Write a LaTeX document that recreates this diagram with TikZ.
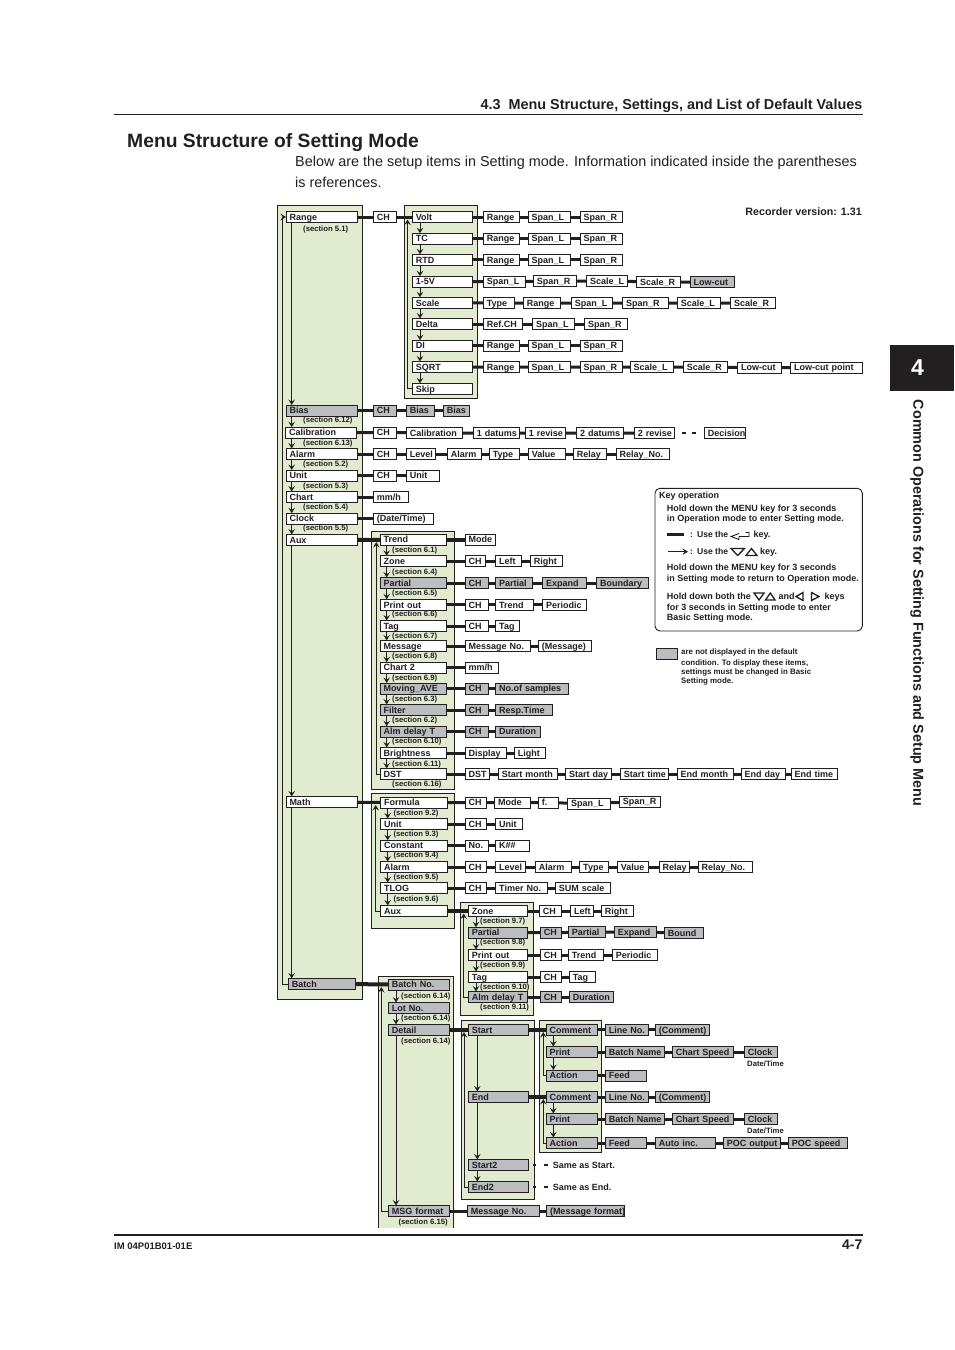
\documentclass[tikz,border=0pt]{standalone}
\usepackage{fontspec}
\setmainfont{Liberation Sans}
\usetikzlibrary{arrows.meta}
\definecolor{ink}{HTML}{231F20}
\definecolor{boxgray}{HTML}{BCBDC0}
\definecolor{panelgreen}{HTML}{E0EBCF}
\newcommand\itmfont{\fontsize{9}{10}\selectfont\bfseries}
\newcommand\secfont{\fontsize{7.7}{8}\selectfont\bfseries}
\newcommand\keyfont{\fontsize{9}{10}\selectfont\bfseries}
\tikzset{
  itm/.style={draw=ink, fill=white, line width=.9pt, outer sep=0pt, anchor=west, inner xsep=3.5pt, inner ysep=2.25pt,
    text height=6.5pt, text depth=0pt, text width=#1pt-7pt, align=left, font=\itmfont, text=ink},
  itg/.style={itm=#1, fill=boxgray},
  sec/.style={anchor=west, inner sep=0pt, text height=6.5pt, text depth=0pt, font=\secfont, text=ink},
  keytxt/.style={anchor=west, inner sep=0pt, text height=6.5pt, text depth=0pt, font=\keyfont, text=ink},
  lgtxt/.style={anchor=west, inner sep=0pt, text height=5.6pt, text depth=0pt, font=\fontsize{7.9}{8}\selectfont\bfseries, text=ink},
  lnk/.style={draw=ink, line width=3pt},
  lnkb/.style={draw=ink, line width=4pt},
  arr/.style={draw=ink, line width=.85pt, -{Stealth[length=5.5pt,width=6.5pt,inset=2.2pt]}},
  panel/.style={draw=ink, fill=panelgreen, line width=.9pt},
  tri/.style={draw=ink, line width=1.3pt, line join=miter},
}
\begin{document}
\begin{tikzpicture}[x=1pt,y=-1pt]
\useasboundingbox (0,0) rectangle (954,1350);

\draw[panel] (277.7,205.5) rectangle (362.3,999);
\draw[panel] (404.3,205.5) rectangle (477.3,398.3);
\draw[panel] (371.7,531.5) rectangle (454.3,789.3);
\draw[panel] (371.7,793.3) rectangle (454.3,928.3);
\draw[panel] (460.7,902.3) rectangle (533.7,1015);
\draw[panel] (378.3,1227.7) -- (378.3,976) -- (453.3,976) -- (453.3,1227.7);
\draw[panel] (461.3,1020.3) rectangle (534.7,1199.3);
\draw[panel] (539.3,1020.3) rectangle (601.7,1152.5);

\draw[ink, line width=1pt] (114,114.3) -- (862.5,114.3);
\draw[ink, line width=1.2pt] (114,1235) -- (862.5,1235);
\fill[ink] (890,345) rectangle (954,391);

\node[anchor=east, inner sep=0pt, font=\fontsize{14.4}{16}\selectfont\bfseries, text=ink] (headA) at (862.5,106) {4.3\ \ Menu Structure, Settings, and List of Default Values};
\node[anchor=west, inner sep=0pt, font=\fontsize{19.3}{22}\selectfont\bfseries, text=ink] (headB) at (127,143) {Menu Structure of Setting Mode};
\node[anchor=west, inner sep=0pt, font=\fontsize{14.4}{16}\selectfont, text=ink] (introA) at (295,162.5) {Below are the setup items in Setting mode. Information indicated inside the parentheses};
\node[anchor=west, inner sep=0pt, font=\fontsize{14.4}{16}\selectfont, text=ink] (introB) at (295,182.5) {is references.};
\node[anchor=east, inner sep=0pt, font=\fontsize{10.7}{11}\selectfont\bfseries, text=ink] (recver) at (862,211.5) {Recorder version: 1.31};
\node[inner sep=0pt, font=\fontsize{23}{24}\selectfont\bfseries, text=white] (tabnum) at (917.5,368) {4};
\node[rotate=-90, inner sep=0pt, font=\fontsize{14.4}{15}\selectfont\bfseries, text=ink] (sidetxt) at (917,603) {Common Operations for Setting Functions and Setup Menu};
\node[anchor=west, inner sep=0pt, font=\fontsize{9.5}{10}\selectfont\bfseries, text=ink] (docno) at (114,1246) {IM 04P01B01-01E};
\node[anchor=east, inner sep=0pt, font=\fontsize{14}{16}\selectfont\bfseries, text=ink] (pageno) at (862.5,1245) {4-7};

\node[itm=71] (mRange) at (286,217) {Range};
\node[itg=71] (mBias) at (286,410.5) {Bias};
\node[itm=71] (mCal) at (285.5,432.7) {Calibration};
\node[itm=71] (mAlarm) at (286,454) {Alarm};
\node[itm=71] (mUnit) at (286,475.5) {Unit};
\node[itm=71] (mChart) at (286,497) {Chart};
\node[itm=71] (mClock) at (286,518.7) {Clock};
\node[itm=71] (mAux) at (286,540) {Aux};
\node[itm=71] (mMath) at (286,802) {Math};
\node[itg=67.5] (mBatch) at (288.3,984) {Batch};

\node[sec] (s51) at (303,228.3) {(section 5.1)};
\node[sec] (s612) at (303,419.3) {(section 6.12)};
\node[sec] (s613) at (303,442.3) {(section 6.13)};
\node[sec] (s52) at (303,463.3) {(section 5.2)};
\node[sec] (s53) at (303,485.3) {(section 5.3)};
\node[sec] (s54) at (303,506.7) {(section 5.4)};
\node[sec] (s55) at (303,527.3) {(section 5.5)};

\node[itm=22.7] (rCh) at (373.3,217) {CH};
\node[itm=60] (vVolt) at (412.3,217) {Volt};
\node[itm=60] (vTc) at (412.3,238.7) {TC};
\node[itm=60] (vRtd) at (412.3,259.8) {RTD};
\node[itm=60] (vV15) at (412.3,281.7) {1-5V};
\node[itm=60] (vScale) at (412.3,302.8) {Scale};
\node[itm=60] (vDelta) at (412.3,324) {Delta};
\node[itm=60] (vDi) at (412.3,345.7) {DI};
\node[itm=60] (vSqrt) at (412.3,367) {SQRT};
\node[itm=60.5] (vSkip) at (412.3,388.8) {Skip};

\node[itm=35.7] (volA) at (483.3,217) {Range};
\node[itm=42] (volB) at (528,217) {Span\_L};
\node[itm=42.3] (volC) at (580,217) {Span\_R};
\node[itm=35.7] (tcA) at (483.3,238.7) {Range};
\node[itm=42] (tcB) at (528,238.7) {Span\_L};
\node[itm=42.3] (tcC) at (580,238.7) {Span\_R};
\node[itm=35.7] (rtdA) at (483.3,259.8) {Range};
\node[itm=42] (rtdB) at (528,259.8) {Span\_L};
\node[itm=42.3] (rtdC) at (580,259.8) {Span\_R};
\node[itm=41.7] (vfA) at (483.3,281.7) {Span\_L};
\node[itm=42.7] (vfB) at (533.3,281.2) {Span\_R};
\node[itm=40.6] (vfC) at (586.7,281) {Scale\_L};
\node[itm=44] (vfD) at (636.7,282) {Scale\_R};
\node[itg=44.3] (vfE) at (690,282) {Low-cut};
\node[itm=30.7] (scA) at (483.3,303) {Type};
\node[itm=36.7] (scB) at (523.3,303) {Range};
\node[itm=41.4] (scC) at (571.3,303) {Span\_L};
\node[itm=45.6] (scD) at (622.7,303) {Span\_R};
\node[itm=42.7] (scE) at (677.3,303) {Scale\_L};
\node[itm=44.3] (scF) at (730.7,303) {Scale\_R};
\node[itm=39.4] (deA) at (483.3,324) {Ref.CH};
\node[itm=42] (deB) at (532.7,324) {Span\_L};
\node[itm=42.6] (deC) at (584.7,324) {Span\_R};
\node[itm=35.7] (diA) at (483.3,345.7) {Range};
\node[itm=42] (diB) at (528,345.7) {Span\_L};
\node[itm=42.3] (diC) at (580,345.7) {Span\_R};
\node[itm=35.7] (sqA) at (483.3,367) {Range};
\node[itm=42] (sqB) at (528,367) {Span\_L};
\node[itm=42.3] (sqC) at (580,367) {Span\_R};
\node[itm=43.3] (sqD) at (630,367) {Scale\_L};
\node[itm=44] (sqE) at (683.3,367) {Scale\_R};
\node[itm=44] (sqF) at (737.7,367.7) {Low-cut};
\node[itm=71.6] (sqG) at (790.7,367.7) {Low-cut~point};

\node[itg=23.4] (biA) at (373.3,410.5) {CH};
\node[itg=28] (biB) at (406.3,410.5) {Bias};
\node[itg=26] (biC) at (443.3,410.5) {Bias};

\node[itm=23.4] (caA) at (373.3,432.5) {CH};
\node[itm=56.4] (caB) at (406.3,433) {Calibration};
\node[itm=46] (caC) at (473.3,433) {\mbox{1 datums}};
\node[itm=40] (caD) at (525.3,433) {\mbox{1 revise}};
\node[itm=46.6] (caE) at (576.7,433) {\mbox{2 datums}};
\node[itm=39.7] (caF) at (634.3,433) {\mbox{2 revise}};
\node[itm=40.7] (caG) at (704.3,433) {Decision};

\node[itm=23.4] (alA) at (373.3,454) {CH};
\node[itm=29.4] (alB) at (406.3,454) {Level};
\node[itm=34.4] (alC) at (447.3,454) {Alarm};
\node[itm=30] (alD) at (489.3,454) {Type};
\node[itm=36.7] (alE) at (528.3,454) {Value};
\node[itm=32.7] (alF) at (573.3,454) {Relay};
\node[itm=53.3] (alG) at (616,454) {Relay\_No.};

\node[itm=23.4] (unA) at (373.3,475.5) {CH};
\node[itm=33] (unB) at (406.3,475.5) {Unit};
\node[itm=35] (chA) at (373.3,497) {mm/h};
\node[itm=60] (clA) at (373.3,518.7) {(Date/Time)};

\node[itm=66.7] (aTrend) at (380,539.7) {Trend};
\node[itm=66.7] (aZone) at (380,561.3) {Zone};
\node[itg=66.7] (aPart) at (380,583) {Partial};
\node[itm=66.7] (aPrint) at (380,604.8) {Print~out};
\node[itm=66.7] (aTag) at (380,626) {Tag};
\node[itm=66.7] (aMsg) at (380,646) {Message};
\node[itm=66.7] (aChart) at (380,667.7) {Chart~2};
\node[itg=66.7] (aMove) at (380,688.5) {Moving\_AVE};
\node[itg=66.7] (aFilt) at (380,710) {Filter};
\node[itg=66.7] (aDelay) at (380,731.7) {Alm~delay~T};
\node[itm=66.7] (aBright) at (380,753) {Brightness};
\node[itm=66.7] (aDst) at (380,774) {DST};

\node[sec] (s61) at (392,549.3) {(section 6.1)};
\node[sec] (s64) at (392,571) {(section 6.4)};
\node[sec] (s65) at (392,592.3) {(section 6.5)};
\node[sec] (s66) at (392,613.7) {(section 6.6)};
\node[sec] (s67) at (392,635.3) {(section 6.7)};
\node[sec] (s68) at (392,655.3) {(section 6.8)};
\node[sec] (s69) at (392,677.3) {(section 6.9)};
\node[sec] (s63) at (392,698.3) {(section 6.3)};
\node[sec] (s62) at (392,719.3) {(section 6.2)};
\node[sec] (s610) at (392,740.3) {(section 6.10)};
\node[sec] (s611) at (392,763) {(section 6.11)};
\node[sec] (s616) at (392,783.5) {(section 6.16)};

\node[itm=30.7] (trA) at (465,539.7) {Mode};
\node[itm=20] (zoA) at (465,561.3) {CH};
\node[itm=25.6] (zoB) at (495.7,561.3) {Left};
\node[itm=32] (zoC) at (530.3,561.3) {Right};
\node[itg=23.3] (paA) at (465,583) {CH};
\node[itg=37] (paB) at (495.7,583) {Partial};
\node[itg=44] (paC) at (542.7,583) {Expand};
\node[itg=51.6] (paD) at (596.7,583) {Boundary};
\node[itm=23.3] (prA) at (465,604.8) {CH};
\node[itm=38] (prB) at (495.7,604.8) {Trend};
\node[itm=44] (prC) at (542.7,604.8) {Periodic};
\node[itm=23.3] (taA) at (465,626) {CH};
\node[itm=24] (taB) at (495.7,626) {Tag};
\node[itm=65.7] (meA) at (465,646) {Message~No.};
\node[itm=53.4] (meB) at (538.3,646) {(Message)};
\node[itm=33.3] (c2A) at (465,667.7) {mm/h};
\node[itg=23.3] (moA) at (465,688.5) {CH};
\node[itg=73] (moB) at (495.7,688.5) {No.of~samples};
\node[itg=23.3] (fiA) at (465,710) {CH};
\node[itg=56.3] (fiB) at (495.7,710) {Resp.Time};
\node[itg=23.3] (adA) at (465,731.7) {CH};
\node[itg=44.6] (adB) at (495.7,731.7) {Duration};
\node[itm=41.7] (brA) at (465,753) {Display};
\node[itm=31] (brB) at (514.3,753) {Light};
\node[itm=24.3] (dsA) at (465,774) {DST};
\node[itm=59] (dsB) at (498.3,774) {Start~month};
\node[itm=46] (dsC) at (565.7,774) {Start~day};
\node[itm=48] (dsD) at (620.3,774) {Start~time};
\node[itm=56] (dsE) at (677,774) {End~month};
\node[itm=44] (dsF) at (741,774) {End~day};
\node[itm=46] (dsG) at (791,774) {End~time};

\node[itm=67] (fForm) at (380.7,802.7) {Formula};
\node[itm=67] (fUnit) at (380.7,824) {Unit};
\node[itm=67] (fCon) at (380.7,845.7) {Constant};
\node[itm=67] (fAlarm) at (380.7,867) {Alarm};
\node[itm=67] (fTlog) at (380.7,888) {TLOG};
\node[itm=67] (fAux) at (380.7,911) {Aux};

\node[sec] (s92) at (393.3,812.7) {(section 9.2)};
\node[sec] (s93) at (393.3,833.3) {(section 9.3)};
\node[sec] (s94) at (393.3,854.3) {(section 9.4)};
\node[sec] (s95) at (393.3,876.7) {(section 9.5)};
\node[sec] (s96) at (393.3,898.3) {(section 9.6)};

\node[itm=21.3] (foA) at (465,802.7) {CH};
\node[itm=35.3] (foB) at (494.7,802.7) {Mode};
\node[itm=20.4] (foC) at (538.3,802.7) {f.};
\node[itm=43] (foD) at (567.7,803.5) {Span\_L};
\node[itm=41] (foE) at (619.3,801.7) {Span\_R};
\node[itm=21.3] (fuA) at (465,824) {CH};
\node[itm=26.6] (fuB) at (495.7,824) {Unit};
\node[itm=23] (fcA) at (465,845.7) {No.};
\node[itm=33.6] (fcB) at (495.7,845.7) {K\#\#};
\node[itm=21.3] (faA) at (465,867) {CH};
\node[itm=29.6] (faB) at (495.7,867) {Level};
\node[itm=36] (faC) at (535.3,867) {Alarm};
\node[itm=29] (faD) at (579.7,867) {Type};
\node[itm=30.7] (faE) at (617.3,867) {Value};
\node[itm=30] (faF) at (659,867) {Relay};
\node[itm=54] (faG) at (698,867) {Relay\_No.};
\node[itm=21.3] (ftA) at (465,888) {CH};
\node[itm=51.6] (ftB) at (495.7,888) {Timer~No.};
\node[itm=55.4] (ftC) at (555.3,888) {SUM~scale};

\node[itm=59.4] (xZone) at (468.3,911) {Zone};
\node[itg=59.4] (xPart) at (468.3,932.7) {Partial};
\node[itm=59.4] (xPrint) at (468.3,955) {Print~out};
\node[itm=59.4] (xTag) at (468.3,977) {Tag};
\node[itg=59.4] (xDelay) at (468.3,997) {Alm~delay~T};

\node[sec] (s97) at (480,920) {(section 9.7)};
\node[sec] (s98) at (480,941.3) {(section 9.8)};
\node[sec] (s99) at (480,964) {(section 9.9)};
\node[sec] (s910) at (480,986.3) {(section 9.10)};
\node[sec] (s911) at (480,1006.3) {(section 9.11)};

\node[itm=22] (xzA) at (539.3,911) {CH};
\node[itm=22.6] (xzB) at (570.7,911) {Left};
\node[itm=32] (xzC) at (601.3,911) {Right};
\node[itg=21] (xpA) at (540.3,932.7) {CH};
\node[itg=36.7] (xpB) at (568.3,932.2) {Partial};
\node[itg=42.4] (xpC) at (614.3,932) {Expand};
\node[itg=39] (xpD) at (664.3,933) {Bound};
\node[itm=21] (xrA) at (540.3,955) {CH};
\node[itm=35.4] (xrB) at (568.3,955) {Trend};
\node[itm=45.4] (xrC) at (612.3,955) {Periodic};
\node[itm=21] (xtA) at (540.3,977) {CH};
\node[itm=26] (xtB) at (569.3,977) {Tag};
\node[itg=21] (xdA) at (540.3,997) {CH};
\node[itg=44] (xdB) at (569.3,997) {Duration};

\node[itg=61.4] (bNo) at (388.3,984.5) {Batch~No.};
\node[itg=61.4] (bLot) at (388.3,1008) {Lot~No.};
\node[itg=61.4] (bDet) at (388.3,1029.8) {Detail};
\node[itg=61.4] (bMsg) at (388.3,1211) {MSG~format};

\node[sec] (s614a) at (401,995) {(section 6.14)};
\node[sec] (s614b) at (401,1017.3) {(section 6.14)};
\node[sec] (s614c) at (401,1040.3) {(section 6.14)};
\node[sec] (s615) at (398.3,1221.7) {(section 6.15)};

\node[itg=60.4] (dStart) at (468.3,1029.8) {Start};
\node[itg=60.4] (dEnd) at (468.3,1097) {End};
\node[itg=60.4] (dStartB) at (468.3,1165) {Start2};
\node[itg=60.4] (dEndB) at (468.3,1187) {End2};

\node[itg=51.7] (gCom) at (546,1029.8) {Comment};
\node[itg=51.7] (gPrint) at (546,1052) {Print};
\node[itg=51.7] (gAct) at (546,1075.5) {Action};
\node[itg=51.7] (gComB) at (546,1097) {Comment};
\node[itg=51.7] (gPrintB) at (546,1119) {Print};
\node[itg=51.7] (gActB) at (546,1143) {Action};

\node[itg=43] (gcA) at (605.3,1029.8) {Line~No.};
\node[itg=54] (gcB) at (655.3,1029.8) {(Comment)};
\node[itg=59] (gpA) at (605.3,1052) {Batch~Name};
\node[itg=61] (gpB) at (672.3,1052) {Chart~Speed};
\node[itg=33.4] (gpC) at (744.3,1052) {Clock};
\node[itg=41.4] (gaA) at (605.3,1075.5) {Feed};
\node[itg=43] (hcA) at (605.3,1097) {Line~No.};
\node[itg=54] (hcB) at (655.3,1097) {(Comment)};
\node[itg=59] (hpA) at (605.3,1119) {Batch~Name};
\node[itg=61] (hpB) at (672.3,1119) {Chart~Speed};
\node[itg=33.4] (hpC) at (744.3,1119) {Clock};
\node[itg=41.4] (haA) at (605.3,1143) {Feed};
\node[itg=60.4] (haB) at (655.3,1143) {Auto~inc.};
\node[itg=56.7] (haC) at (723.3,1143) {\mbox{POC output}};
\node[itg=59] (haD) at (788.3,1143) {POC~speed};
\node[sec] (dtA) at (747,1063.3) {Date/Time};
\node[sec] (dtB) at (747,1130) {Date/Time};

\node[itg=71.7] (msA) at (467.3,1211) {Message~No.};
\node[itg=78] (msB) at (546.5,1211) {\mbox{(Message format)}};
\node[keytxt] (sameA) at (552.7,1165) {Same as Start.};
\node[keytxt] (sameB) at (552.7,1187) {Same as End.};

\foreach \a/\b in {mRange/mBias,mBias/mCal,mCal/mAlarm,mAlarm/mUnit,mUnit/mChart,mChart/mClock,mClock/mAux,mAux/mMath,mMath/mBatch}
  \draw[arr] (\a.south -| 291.7,0) -- (\b.north -| 291.7,0);
\foreach \a/\b in {vVolt/vTc,vTc/vRtd,vRtd/vV15,vV15/vScale,vScale/vDelta,vDelta/vDi,vDi/vSqrt,vSqrt/vSkip}
  \draw[arr] (\a.south -| 420,0) -- (\b.north -| 420,0);
\foreach \a/\b in {aTrend/aZone,aZone/aPart,aPart/aPrint,aPrint/aTag,aTag/aMsg,aMsg/aChart,aChart/aMove,aMove/aFilt,aFilt/aDelay,aDelay/aBright,aBright/aDst}
  \draw[arr] (\a.south -| 386.7,0) -- (\b.north -| 386.7,0);
\foreach \a/\b in {fForm/fUnit,fUnit/fCon,fCon/fAlarm,fAlarm/fTlog,fTlog/fAux}
  \draw[arr] (\a.south -| 387.7,0) -- (\b.north -| 387.7,0);
\foreach \a/\b in {xZone/xPart,xPart/xPrint,xPrint/xTag,xTag/xDelay}
  \draw[arr] (\a.south -| 476,0) -- (\b.north -| 476,0);
\foreach \a/\b in {bNo/bLot,bLot/bDet,bDet/bMsg}
  \draw[arr] (\a.south -| 396,0) -- (\b.north -| 396,0);
\foreach \a/\b in {dStart/dEnd,dEnd/dStartB,dStartB/dEndB}
  \draw[arr] (\a.south -| 477.3,0) -- (\b.north -| 477.3,0);
\foreach \a/\b in {gCom/gPrint,gPrint/gAct,gComB/gPrintB,gPrintB/gActB}
  \draw[arr] (\a.south -| 553.3,0) -- (\b.north -| 553.3,0);

\draw[arr] (mBatch.west) -| (282.3,975) |- (mRange.west);
\coordinate (vBack) at (407.5,219.5);
\coordinate (aBack) at (376.3,542);
\coordinate (fBack) at (375.7,805);
\coordinate (xBack) at (463.7,913.5);
\coordinate (bBack) at (381.3,987);
\coordinate (dBack) at (464,1032);
\coordinate (gBack) at (543.3,1032);
\coordinate (hBack) at (543.3,1099);
\draw[arr] (vSkip.west) -| (vBack);
\draw[arr] (aDst.west) -| (aBack);
\draw[arr] (fAux.west) -| (fBack);
\draw[arr] (xDelay.west) -| (xBack);
\draw[arr] (bMsg.west) -| (bBack);
\draw[arr] (dEndB.west) -| (dBack);
\draw[arr] (gAct.west) -| (gBack);
\draw[arr] (gActB.west) -| (hBack);

\draw[lnk] (mRange) -- (rCh) -- (vVolt) -- (volA) -- (volB) -- (volC);
\draw[lnk] (vTc) -- (tcA) -- (tcB) -- (tcC);
\draw[lnk] (vRtd) -- (rtdA) -- (rtdB) -- (rtdC);
\draw[lnk] (vV15) -- (vfA) -- (vfB) -- (vfC) -- (vfD) -- (vfE);
\draw[lnk] (vScale) -- (scA) -- (scB) -- (scC) -- (scD) -- (scE) -- (scF);
\draw[lnk] (vDelta) -- (deA) -- (deB) -- (deC);
\draw[lnk] (vDi) -- (diA) -- (diB) -- (diC);
\draw[lnk] (vSqrt) -- (sqA) -- (sqB) -- (sqC) -- (sqD) -- (sqE) -- (sqF) -- (sqG);
\draw[lnk] (mBias) -- (biA) -- (biB) -- (biC);
\draw[lnk] (mCal) -- (caA) -- (caB) -- (caC) -- (caD) -- (caE) -- (caF);
\draw[lnk, line width=2pt, dash pattern=on 0pt off 8pt on 4pt off 6pt on 4pt off 8pt] (caF) -- (caG);
\draw[lnk] (mAlarm) -- (alA) -- (alB) -- (alC) -- (alD) -- (alE) -- (alF) -- (alG);
\draw[lnk] (mUnit) -- (unA) -- (unB);
\draw[lnk] (mChart) -- (chA);
\draw[lnk] (mClock) -- (clA);
\draw[lnkb] (mAux) -- (aTrend);
\draw[lnkb] (aTrend) -- (trA);
\draw[lnk] (aZone) -- (zoA) -- (zoB) -- (zoC);
\draw[lnk] (aPart) -- (paA) -- (paB) -- (paC) -- (paD);
\draw[lnk] (aPrint) -- (prA) -- (prB) -- (prC);
\draw[lnk] (aTag) -- (taA) -- (taB);
\draw[lnk] (aMsg) -- (meA) -- (meB);
\draw[lnk] (aChart) -- (c2A);
\draw[lnk] (aMove) -- (moA) -- (moB);
\draw[lnk] (aFilt) -- (fiA) -- (fiB);
\draw[lnk] (aDelay) -- (adA) -- (adB);
\draw[lnk] (aBright) -- (brA) -- (brB);
\draw[lnk] (aDst) -- (dsA) -- (dsB) -- (dsC) -- (dsD) -- (dsE) -- (dsF) -- (dsG);
\draw[lnk] (mMath) -- (fForm) -- (foA) -- (foB) -- (foC) -- (foD) -- (foE);
\draw[lnk] (fUnit) -- (fuA) -- (fuB);
\draw[lnk] (fCon) -- (fcA) -- (fcB);
\draw[lnk] (fAlarm) -- (faA) -- (faB) -- (faC) -- (faD) -- (faE) -- (faF) -- (faG);
\draw[lnk] (fTlog) -- (ftA) -- (ftB) -- (ftC);
\draw[lnkb] (fAux) -- (xZone);
\draw[lnk] (xZone) -- (xzA) -- (xzB) -- (xzC);
\draw[lnk] (xPart) -- (xpA) -- (xpB) -- (xpC) -- (xpD);
\draw[lnk] (xPrint) -- (xrA) -- (xrB) -- (xrC);
\draw[lnk] (xTag) -- (xtA) -- (xtB);
\draw[lnk] (xDelay) -- (xdA) -- (xdB);
\draw[lnkb] (mBatch) -- (bNo);
\draw[lnkb] (bDet) -- (dStart);
\draw[lnkb] (dStart) -- (gCom);
\draw[lnkb] (dEnd) -- (gComB);
\draw[lnk] (gCom) -- (gcA) -- (gcB);
\draw[lnk] (gPrint) -- (gpA) -- (gpB) -- (gpC);
\draw[lnk] (gAct) -- (gaA);
\draw[lnk] (gComB) -- (hcA) -- (hcB);
\draw[lnk] (gPrintB) -- (hpA) -- (hpB) -- (hpC);
\draw[lnk] (gActB) -- (haA) -- (haB) -- (haC) -- (haD);
\draw[lnk] (bMsg) -- (msA) -- (msB);
\draw[lnk, line width=2pt, dash pattern=on 0pt off 4.5pt on 3pt off 7.5pt on 4pt off 8pt] (dStartB) -- (sameA);
\draw[lnk, line width=2pt, dash pattern=on 0pt off 4.5pt on 3pt off 7.5pt on 4pt off 8pt] (dEndB) -- (sameB);

\draw[ink, line width=.9pt, rounded corners=5pt, fill=white] (655,488.3) rectangle (862.3,631);
\node[keytxt] (kHead) at (659,495) {Key operation};
\node[keytxt] (kLineA) at (666.7,508) {Hold down the MENU key for 3 seconds};
\node[keytxt] (kLineB) at (666.7,518.5) {in Operation mode to enter Setting mode.};
\coordinate (kThickA) at (666.7,534.5);
\coordinate (kThickB) at (684,534.5);
\draw[lnk] (kThickA) -- (kThickB);
\node[keytxt, font=\fontsize{8.6}{10}\selectfont\bfseries] (kUseA) at (690,534.3) {:\hspace{4pt}Use the};
\draw[tri, line width=.9pt] (739,533.5) -- (731,536.5) -- (739,539.5) -- (739,536.5) -- (749,536.5) -- (749,532.5) -- (745.5,532.5);
\node[keytxt] (kKeyA) at (753.3,534.3) {key.};
\coordinate (kArrA) at (668,551.7);
\coordinate (kArrB) at (688,551.7);
\draw[arr] (kArrA) -- (kArrB);
\node[keytxt, font=\fontsize{8.6}{10}\selectfont\bfseries] (kUseB) at (690,551.7) {:\hspace{4pt}Use the};
\draw[tri] (731,548.5) -- (744.5,548.5) -- (737.7,555.5) -- cycle;
\draw[tri] (746,555.5) -- (757,555.5) -- (751.5,548.5) -- cycle;
\node[keytxt] (kKeyB) at (760,551.7) {key.};
\node[keytxt] (kLineC) at (666.7,567.7) {Hold down the MENU key for 3 seconds};
\node[keytxt] (kLineD) at (666.7,578.3) {in Setting mode to return to Operation mode.};
\node[keytxt] (kLineE) at (666.7,596.3) {Hold down both the};
\draw[tri] (754,593) -- (764,593) -- (759,600) -- cycle;
\draw[tri] (765.5,600) -- (775,600) -- (770.3,593) -- cycle;
\node[keytxt] (kAnd) at (778.3,596.3) {and};
\draw[tri] (803,592.5) -- (803,600.5) -- (796,596.5) -- cycle;
\draw[tri] (811.5,592.5) -- (811.5,600.5) -- (819,596.5) -- cycle;
\node[keytxt] (kKeys) at (824.3,596.3) {keys};
\node[keytxt] (kLineF) at (666.7,607) {for 3 seconds in Setting mode to enter};
\node[keytxt] (kLineG) at (666.7,617.7) {Basic Setting mode.};

\node[itg=20.3] (lgBox) at (656.7,653.5) {};
\node[lgtxt] (lgA) at (681,652) {are not displayed in the default};
\node[lgtxt] (lgB) at (681,662.3) {condition. To display these items,};
\node[lgtxt] (lgC) at (681,671.3) {settings must be changed in Basic};
\node[lgtxt] (lgD) at (681,680.3) {Setting mode.};
\end{tikzpicture}
\end{document}
